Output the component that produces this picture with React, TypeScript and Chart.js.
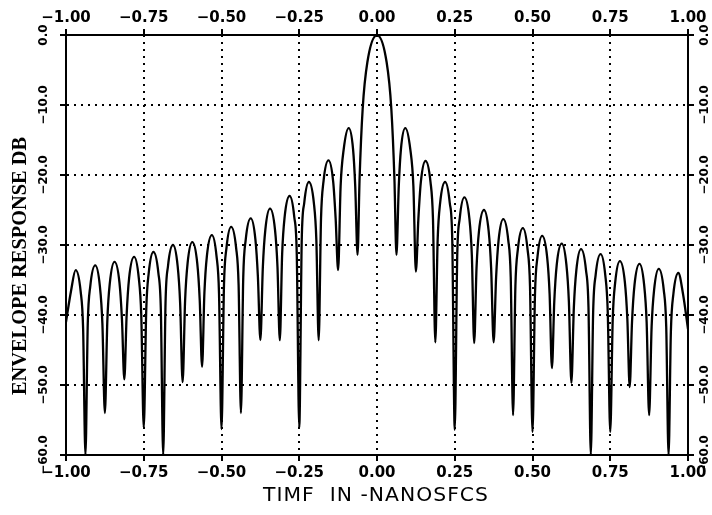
import React, { useEffect, useRef } from "react";
import { Chart, registerables } from "chart.js";

Chart.register(...registerables);

// ---- tick values / labels ----
const xTickValues = [-1, -0.75, -0.5, -0.25, 0, 0.25, 0.5, 0.75, 1];
const xTickLabels = ["−1.00", "−0.75", "−0.50", "−0.25", "0.00", "0.25", "0.50", "0.75", "1.00"];
const yTickValues = [0, -10, -20, -30, -40, -50, -60];
const yTickLabels = ["0.0", "−10.0", "−20.0", "−30.0", "−40.0", "−50.0", "−60.0"];

const xTitle = "TIMF  IN -NANOSFCS";
const yTitle = "ENVELOPE RESPONSE DB";

// ---- data (time in ns, response in dB) ----
// nulls between lobes (and the two ends of the trace)
const nullTimes = [
  -1.0, -0.9375, -0.875, -0.8125, -0.75, -0.6875, -0.625, -0.5625, -0.5, -0.4375, -0.375, -0.3125,
  -0.25, -0.1875, -0.125, -0.0625,
  0.0625, 0.125, 0.1875, 0.25, 0.3125, 0.375, 0.4375, 0.5, 0.5625, 0.625, 0.6875, 0.75, 0.8125,
  0.875, 0.9375, 1.0,
];
const nullDb = [
  -41, -60, -54, -49.2, -56.1, -60, -49.6, -47.4, -56.3, -54, -43.6, -43.6,
  -56.1, -43.6, -33.6, -31.4,
  -31.4, -33.8, -43.9, -56.4, -44, -43.9, -54.3, -56.7, -47.6, -49.7, -60, -56.7, -50.3,
  -54.3, -60, -42,
];

// lobe peaks
const peakTimes = [
  -0.969, -0.906, -0.844, -0.781, -0.719, -0.656, -0.594, -0.531, -0.469, -0.406, -0.344, -0.281,
  -0.219, -0.156, -0.091, 0, 0.091, 0.156, 0.219, 0.281, 0.344, 0.406, 0.469, 0.531, 0.594, 0.656,
  0.719, 0.781, 0.844, 0.906, 0.969,
];
const peakDb = [
  -33.6, -32.9, -32.4, -31.7, -31.0, -30.0, -29.6, -28.6, -27.4, -26.2, -24.8, -23.0,
  -21.0, -17.9, -13.3, 0, -13.3, -18.0, -21.0, -23.2, -25.0, -26.3, -27.6, -28.7, -29.8, -30.6,
  -31.3, -32.3, -32.7, -33.4, -34.0,
];

// lobe shoulders (half way between null and peak)
const shoulderTimes = [
  -0.984, -0.953, -0.922, -0.891, -0.859, -0.828, -0.797, -0.766, -0.734, -0.703,
  -0.672, -0.641, -0.609, -0.578, -0.547, -0.516, -0.484, -0.453, -0.422, -0.391,
  -0.359, -0.328, -0.297, -0.266, -0.234, -0.203, -0.172, -0.141, -0.107, -0.077,
  -0.056, -0.046, -0.031, 0.031, 0.046, 0.056,
  0.077, 0.107, 0.141, 0.172, 0.203, 0.234, 0.266, 0.297, 0.328, 0.359,
  0.391, 0.422, 0.453, 0.484, 0.516, 0.547, 0.578, 0.609, 0.641, 0.672,
  0.703, 0.734, 0.766, 0.797, 0.828, 0.859, 0.891, 0.922, 0.953, 0.984,
];
const shoulderDb = [
  -36.6, -36.6, -35.9, -35.9, -35.4, -35.4, -34.7, -34.7, -34.0, -34.0,
  -33.0, -33.0, -32.6, -32.6, -31.6, -31.6, -30.4, -30.4, -29.2, -29.2,
  -27.8, -27.8, -26.0, -26.0, -24.0, -24.0, -20.9, -20.9, -16.3, -16.3,
  -20.5, -10.5, -3.9, -3.9, -10.5, -20.5,
  -16.3, -16.3, -21.0, -21.0, -24.0, -24.0, -26.2, -26.2, -28.0, -28.0,
  -29.3, -29.3, -30.6, -30.6, -31.7, -31.7, -32.8, -32.8, -33.6, -33.6,
  -34.3, -34.3, -35.3, -35.3, -35.7, -35.7, -36.4, -36.4, -37.0, -37.0,
];

// lobe flanks (close to each null, where the trace becomes steep)
const flankTimes = [
  -0.945, -0.930, -0.883, -0.867, -0.820, -0.805, -0.758, -0.742, -0.695,
  -0.680, -0.633, -0.617, -0.570, -0.555, -0.508, -0.492, -0.445, -0.430, -0.383,
  -0.367, -0.320, -0.305, -0.258, -0.242, -0.195, -0.180, -0.133, -0.117, -0.070,
  0.070, 0.117, 0.133, 0.180, 0.195, 0.242, 0.258, 0.305, 0.320, 0.367,
  0.383, 0.430, 0.445, 0.492, 0.508, 0.555, 0.570, 0.617, 0.633, 0.680,
  0.695, 0.742, 0.758, 0.805, 0.820, 0.867, 0.883, 0.930, 0.945,
];
const flankDb = [
  -41.9, -41.2, -41.2, -40.7, -40.7, -40.0, -40.0, -39.3, -39.3,
  -38.3, -38.3, -37.9, -37.9, -36.9, -36.9, -35.7, -35.7, -34.5, -34.5,
  -33.1, -33.1, -31.3, -31.3, -29.3, -29.3, -26.2, -26.2, -21.6, -21.6,
  -21.6, -21.6, -26.3, -26.3, -29.3, -29.3, -31.5, -31.5, -33.3, -33.3,
  -34.6, -34.6, -35.9, -35.9, -37.0, -37.0, -38.1, -38.1, -38.9, -38.9,
  -39.6, -39.6, -40.6, -40.6, -41.0, -41.0, -41.7, -41.7, -42.3,
];

function buildSeries() {
  const pts: { x: number; y: number }[] = [];
  nullTimes.forEach((x, i) => pts.push({ x, y: nullDb[i] }));
  peakTimes.forEach((x, i) => pts.push({ x, y: peakDb[i] }));
  shoulderTimes.forEach((x, i) => pts.push({ x, y: shoulderDb[i] }));
  flankTimes.forEach((x, i) => pts.push({ x, y: flankDb[i] }));
  pts.sort((a, b) => a.x - b.x);
  return pts;
}

function drawFitted(
  ctx: CanvasRenderingContext2D,
  text: string,
  cx: number,
  cy: number,
  width: number,
  angle: number,
  font: string,
  spacing: string
) {
  ctx.save();
  ctx.font = font;
  (ctx as any).letterSpacing = spacing;
  const w = ctx.measureText(text).width;
  ctx.translate(cx, cy);
  ctx.rotate(angle);
  ctx.scale(width / w, 1);
  ctx.textAlign = "center";
  ctx.textBaseline = "middle";
  ctx.fillStyle = "#000";
  ctx.fillText(text, 0, 0);
  ctx.restore();
}

const labelPlugin = {
  id: "envLabels",
  afterDraw(chart: any) {
    const ctx: CanvasRenderingContext2D = chart.ctx;
    const xs = chart.scales.x;
    const ys = chart.scales.y;
    ctx.save();
    ctx.fillStyle = "#000";
    ctx.textAlign = "center";
    ctx.textBaseline = "middle";
    ctx.font = "bold 15px 'DejaVu Sans'";
    xTickValues.forEach((v, i) => {
      const px = xs.getPixelForValue(v);
      ctx.fillText(xTickLabels[i], px, 18);
      ctx.fillText(xTickLabels[i], px, 473);
    });
    ctx.font = "bold 12px 'DejaVu Sans'";
    yTickValues.forEach((v, i) => {
      const py = ys.getPixelForValue(v);
      [44, 705].forEach((cx) => {
        ctx.save();
        ctx.translate(cx, py);
        ctx.rotate(-Math.PI / 2);
        ctx.fillText(yTickLabels[i], 0, 0);
        ctx.restore();
      });
    });
    ctx.restore();
    drawFitted(ctx, xTitle, 376, 496, 226, 0, "20px 'DejaVu Sans'", "1px");
    drawFitted(ctx, yTitle, 21, 266, 258, -Math.PI / 2, "bold 21px 'Liberation Serif'", "0px");
  },
};

const tickGrid = (onArea: boolean) => ({
  display: true,
  drawOnChartArea: onArea,
  drawTicks: true,
  tickLength: 6,
  tickWidth: 2,
  tickColor: "#000",
  color: "#000",
  lineWidth: 2,
});

export default function App() {
  const ref = useRef<HTMLCanvasElement>(null);
  useEffect(() => {
    if (!ref.current) return;
    const chart = new Chart(ref.current, {
      type: "line",
      data: {
        datasets: [
          {
            data: buildSeries(),
            borderColor: "#000",
            borderWidth: 2.3,
            pointRadius: 0,
            fill: false,
            cubicInterpolationMode: "monotone",
            xAxisID: "x",
            yAxisID: "y",
          },
        ],
      },
      options: {
        animation: false,
        responsive: false,
        maintainAspectRatio: false,
        devicePixelRatio: 1,
        layout: { padding: 0 },
        plugins: { legend: { display: false }, tooltip: { enabled: false }, title: { display: false } },
        scales: {
          x: {
            type: "linear",
            position: "bottom",
            min: -1,
            max: 1,
            afterBuildTicks: (a: any) => {
              a.ticks = xTickValues.map((value) => ({ value }));
            },
            afterFit: (a: any) => {
              a.height = 60;
            },
            ticks: { display: false },
            grid: tickGrid(true),
            border: { display: true, color: "#000", width: 2, dash: [2, 5] },
          },
          xTop: {
            type: "linear",
            position: "top",
            min: -1,
            max: 1,
            afterBuildTicks: (a: any) => {
              a.ticks = xTickValues.map((value) => ({ value }));
            },
            afterFit: (a: any) => {
              a.height = 35;
            },
            ticks: { display: false },
            grid: tickGrid(false),
            border: { display: true, color: "#000", width: 2 },
          },
          y: {
            type: "linear",
            position: "left",
            min: -60,
            max: 0,
            afterBuildTicks: (a: any) => {
              a.ticks = yTickValues.map((value) => ({ value }));
            },
            afterFit: (a: any) => {
              a.width = 66;
            },
            ticks: { display: false },
            grid: tickGrid(true),
            border: { display: true, color: "#000", width: 2, dash: [2, 5] },
          },
          yRight: {
            type: "linear",
            position: "right",
            min: -60,
            max: 0,
            afterBuildTicks: (a: any) => {
              a.ticks = yTickValues.map((value) => ({ value }));
            },
            afterFit: (a: any) => {
              a.width = 24;
            },
            ticks: { display: false },
            grid: tickGrid(false),
            border: { display: true, color: "#000", width: 2 },
          },
        },
      } as any,
      plugins: [labelPlugin],
    });
    return () => chart.destroy();
  }, []);
  return (
    <div style={{ position: "absolute", left: 0, top: 0, width: 712, height: 515, background: "#fff" }}>
      <canvas ref={ref} width={712} height={515} style={{ display: "block", width: 712, height: 515 }} />
    </div>
  );
}
